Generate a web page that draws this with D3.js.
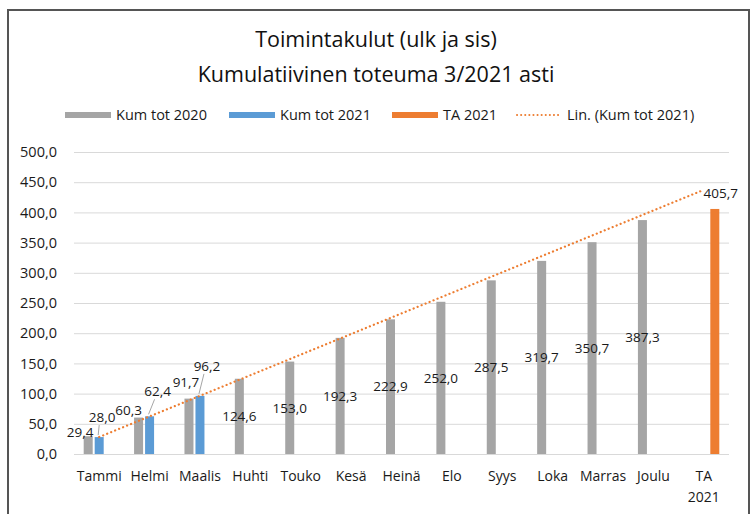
<!DOCTYPE html>
<html>
<head>
<meta charset="utf-8">
<script src="https://cdn.jsdelivr.net/npm/d3@7"></script>
<style>
    body { margin: 0; background: #fff; }
    svg { font-family: "Open Sans", Lato, sans-serif; }
</style>
</head>
<body>
<script>
// categories and values
var months = ["Tammi", "Helmi", "Maalis", "Huhti", "Touko", "Kesä", "Heinä", "Elo", "Syys", "Loka", "Marras", "Joulu", "TA 2021"];
var kum2020 = [29.4, 60.3, 91.7, 124.6, 153.0, 192.3, 222.9, 252.0, 287.5, 319.7, 350.7, 387.3, null];
var kum2021 = [28.0, 62.4, 96.2, null, null, null, null, null, null, null, null, null, null];
var ta2021 = [null, null, null, null, null, null, null, null, null, null, null, null, 405.7];
var yTicks = [0, 50, 100, 150, 200, 250, 300, 350, 400, 450, 500];

var seriesNames = ["Kum tot 2020", "Kum tot 2021", "TA 2021"];
var colors = { "Kum tot 2020": "#a5a5a5", "Kum tot 2021": "#5b9bd5", "TA 2021": "#ed7d31" };

// hand-moved label offsets (dx, dy from the bar top), like in the original sheet
var moved2020 = { 0: [-8, -4], 1: [-10, -7], 2: [-3, -16] };
var moved2021 = { 0: [3, -20], 1: [8, -25], 2: [7, -30] };

var W = 751, H = 514;
var fmt = function(v) { return d3.format(".1f")(v).replace(".", ","); };

var svg = d3.select("body").append("svg")
    .attr("width", W)
    .attr("height", H);

// chart border
svg.append("rect")
    .attr("x", 8).attr("y", 10)
    .attr("width", 741).attr("height", 520)
    .attr("fill", "#fff")
    .attr("stroke", "#555")
    .attr("stroke-width", 2);

// title
var title = svg.append("text")
    .attr("text-anchor", "middle")
    .attr("fill", "#111")
    .style("font-size", "21.5px");
title.append("tspan").attr("x", 376).attr("y", 47).text("Toimintakulut (ulk ja sis)");
title.append("tspan").attr("x", 376).attr("y", 82).text("Kumulatiivinen toteuma 3/2021 asti");

// scales
var x = d3.scaleBand().domain(months).range([74, 729]);
var xSub = d3.scaleBand().domain(seriesNames).range([-16.5, 16.5]);
var y = d3.scaleLinear().domain([0, 500]).range([454, 152]);
var barW = 9;

// grid + y axis
var yAxis = d3.axisLeft(y).tickValues(yTicks).tickSize(-(729 - 74)).tickFormat(fmt);
var gy = svg.append("g").attr("transform", "translate(74,0)").call(yAxis);
gy.select(".domain").remove();
gy.selectAll(".tick line").attr("stroke", "#d9d9d9").attr("stroke-width", 1);
gy.selectAll(".tick text")
    .attr("x", -17)
    .attr("fill", "#1a1a1a")
    .style("font-size", "14.5px")
    .style("font-family", "'Open Sans', sans-serif");

// x axis labels
var gx = svg.append("g").attr("transform", "translate(0,454)")
    .call(d3.axisBottom(x).tickSize(0).tickPadding(0));
gx.select(".domain").remove();
gx.selectAll(".tick text").remove();
gx.selectAll(".tick").each(function(d) {
    var t = d3.select(this).append("text")
        .attr("text-anchor", "middle")
        .attr("fill", "#1a1a1a")
        .style("font-size", "14px")
        .style("font-family", "'Open Sans', sans-serif");
    var parts = d.split(" ");
    parts.forEach(function(p, i) {
        t.append("tspan").attr("x", 0).attr("y", 27 + i * 21).text(p);
    });
});

// bars
function cx(i, s) { return x(months[i]) + x.bandwidth() / 2 + xSub(s) + xSub.bandwidth() / 2; }

var allSeries = [
    { name: "Kum tot 2020", values: kum2020 },
    { name: "Kum tot 2021", values: kum2021 },
    { name: "TA 2021", values: ta2021 }
];

allSeries.forEach(function(s) {
    var pts = s.values.map(function(v, i) { return { i: i, v: v }; })
        .filter(function(d) { return d.v != null; });
    svg.append("g").selectAll("rect")
        .data(pts)
        .enter()
        .append("rect")
        .attr("x", function(d) { return cx(d.i, s.name) - barW / 2; })
        .attr("y", function(d) { return y(d.v); })
        .attr("width", barW)
        .attr("height", function(d) { return y(0) - y(d.v); })
        .attr("fill", colors[s.name]);
});

// linear trendline of Kum tot 2021, forecast forward to the last category
var known = kum2021.map(function(v, i) { return [i + 1, v]; }).filter(function(d) { return d[1] != null; });
var mx = d3.mean(known, function(d) { return d[0]; });
var my = d3.mean(known, function(d) { return d[1]; });
var slope = d3.sum(known, function(d) { return (d[0] - mx) * (d[1] - my); }) /
    d3.sum(known, function(d) { return (d[0] - mx) * (d[0] - mx); });
var icpt = my - slope * mx;
var trendPts = [1, months.length].map(function(k) {
    return [x(months[k - 1]) + x.bandwidth() / 2, y(icpt + slope * k)];
});
svg.append("path")
    .attr("d", d3.line()(trendPts))
    .attr("fill", "none")
    .attr("stroke", "#ed7d31")
    .attr("stroke-width", 2.2)
    .attr("stroke-dasharray", "0.1 4.2")
    .attr("stroke-linecap", "round");

// data labels
var labelG = svg.append("g")
    .style("font-size", "13.5px")
    .style("font-family", "'Open Sans', sans-serif")
    .attr("fill", "#1a1a1a")
    .attr("text-anchor", "middle");

kum2020.forEach(function(v, i) {
    if (v == null) return;
    var lx = cx(i, "Kum tot 2020"), ly;
    if (moved2020[i]) {
        lx += moved2020[i][0];
        ly = y(v) + moved2020[i][1];
    } else {
        ly = (y(v) + y(0)) / 2; // centred in the bar
    }
    labelG.append("text").attr("x", lx).attr("y", ly).attr("dy", "0.35em").text(fmt(v));
});

kum2021.forEach(function(v, i) {
    if (v == null) return;
    var bx = cx(i, "Kum tot 2021");
    var lx = bx + moved2021[i][0], ly = y(v) + moved2021[i][1];
    // leader line from label to bar
    svg.append("line")
        .attr("x1", lx - 3).attr("y1", ly + 8)
        .attr("x2", bx - 1).attr("y2", y(v) - 2)
        .attr("stroke", "#a6a6a6")
        .attr("stroke-width", 1);
    labelG.append("text").attr("x", lx).attr("y", ly).attr("dy", "0.35em").text(fmt(v));
});

ta2021.forEach(function(v, i) {
    if (v == null) return;
    labelG.append("text")
        .attr("x", cx(i, "TA 2021") + 6)
        .attr("y", y(v) - 16)
        .attr("dy", "0.35em")
        .text(fmt(v));
});

// legend
var legendItems = [
    { name: "Kum tot 2020", type: "bar", x: 65 },
    { name: "Kum tot 2021", type: "bar", x: 229 },
    { name: "TA 2021", type: "bar", x: 392 },
    { name: "Lin. (Kum tot 2021)", type: "line", x: 516 }
];
var lg = svg.append("g").attr("transform", "translate(0,115)");
legendItems.forEach(function(it) {
    if (it.type === "bar") {
        lg.append("rect")
            .attr("x", it.x).attr("y", -3)
            .attr("width", 46).attr("height", 6)
            .attr("fill", colors[it.name]);
    } else {
        lg.append("line")
            .attr("x1", it.x + 1).attr("x2", it.x + 46)
            .attr("y1", 0).attr("y2", 0)
            .attr("stroke", "#ed7d31")
            .attr("stroke-width", 2)
            .attr("stroke-dasharray", "0.1 4")
            .attr("stroke-linecap", "round");
    }
    lg.append("text")
        .attr("x", it.x + 51)
        .attr("y", 0)
        .attr("dy", "0.35em")
        .attr("fill", "#1a1a1a")
        .style("font-size", "14.5px")
        .text(it.name);
});
</script>
</body>
</html>
